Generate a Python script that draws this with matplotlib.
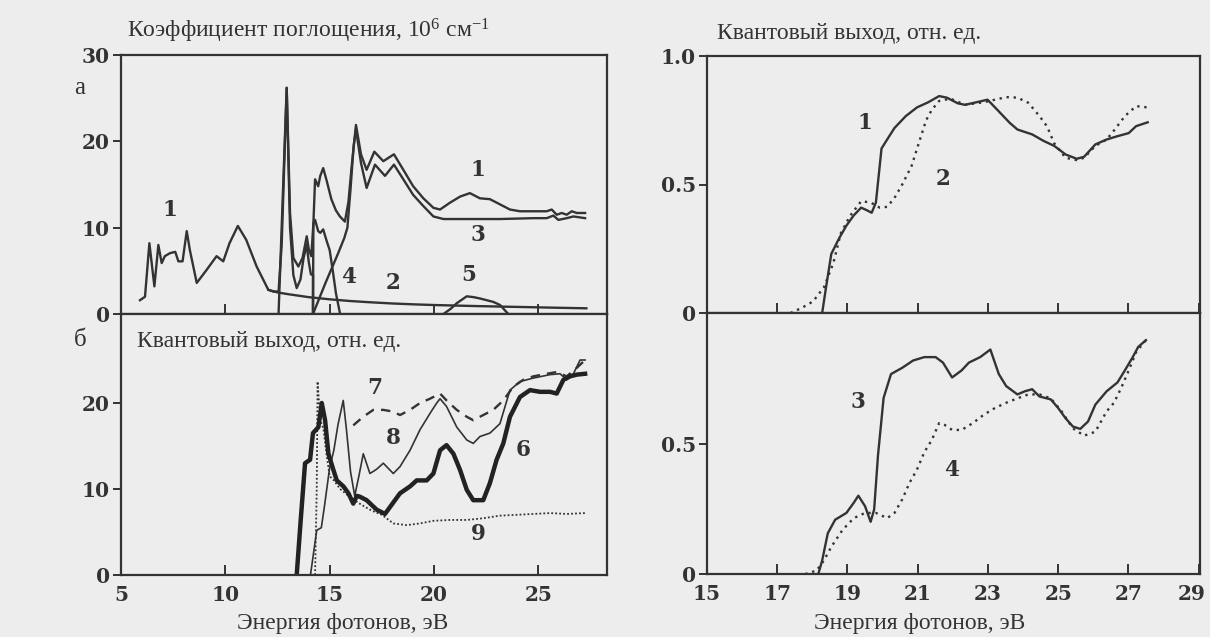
import matplotlib
matplotlib.use("Agg")
import matplotlib.pyplot as plt
from matplotlib.transforms import offset_copy

plt.rcParams['font.family'] = ['Liberation Serif', 'DejaVu Serif']
plt.rcParams['mathtext.fontset'] = 'custom'
plt.rcParams['mathtext.rm'] = 'Liberation Serif'
plt.rcParams['mathtext.it'] = 'Liberation Serif:italic'

# ---------------- panel a: absorption coefficient (10^6 cm^-1) ----------------
abs1_E = [5.91, 6.15, 6.36, 6.6, 6.79, 6.95, 7.1, 7.35, 7.6, 7.75, 7.95, 8.15, 8.3, 8.63,
          9.1, 9.58, 9.9, 10.2, 10.6, 11.0, 11.5, 12.06, 12.3, 12.55, 12.7, 12.94, 13.1,
          13.26, 13.5, 13.7, 13.9, 14.0, 14.12, 14.22, 14.3, 14.45, 14.55, 14.69, 14.85,
          15.08, 15.3, 15.49, 15.73, 15.9, 16.05, 16.26, 16.5, 16.77, 17.14, 17.57, 18.08,
          18.53, 19.0, 19.49, 19.97, 20.29, 20.77, 21.25, 21.72, 22.2, 22.68, 23.16, 23.64,
          24.12, 24.76, 25.4, 25.64, 25.88, 26.12, 26.36, 26.6, 26.84, 27.24]
abs1_v = [1.6, 2.0, 8.2, 3.2, 8.0, 5.9, 6.7, 7.05, 7.2, 6.1, 6.1, 9.6, 7.4, 3.6,
          5.1, 6.7, 6.1, 8.2, 10.2, 8.6, 5.5, 2.8, 2.6, 2.6, 8.0, 26.2, 11.7,
          6.5, 5.5, 6.5, 9.0, 7.5, 6.7, 10.5, 15.6, 14.8, 16.0, 16.9, 15.5,
          13.3, 12.0, 11.3, 10.7, 13.0, 17.0, 21.9, 18.5, 16.7, 18.8, 17.7, 18.5,
          16.7, 14.8, 13.4, 12.3, 12.1, 12.9, 13.6, 14.0, 13.4, 13.3, 12.7, 12.1,
          11.9, 11.9, 11.9, 12.1, 11.5, 11.7, 11.5, 11.9, 11.7, 11.7]

abs2_E = [12.06, 12.5, 13.0, 14.0, 15.0, 16.0, 17.0, 18.0, 19.0, 20.0, 22.0, 24.0, 26.0, 27.3]
abs2_v = [2.8, 2.5, 2.3, 1.95, 1.7, 1.5, 1.35, 1.22, 1.12, 1.04, 0.92, 0.82, 0.72, 0.66]

abs3_E = [14.2, 14.5, 14.8, 15.1, 15.4, 15.7, 15.85, 16.0, 16.15, 16.26, 16.5, 16.77, 17.17,
          17.65, 18.08, 18.53, 19.0, 19.49, 19.97, 20.45, 21.57, 23.16, 24.76, 25.4, 25.72,
          25.96, 26.36, 26.68, 27.24]
abs3_v = [0, 1.8, 3.6, 5.3, 7.0, 8.8, 10.0, 14.5, 19.5, 21.4, 17.5, 14.6, 17.3,
          16.0, 17.3, 15.6, 13.8, 12.5, 11.3, 11.0, 11.0, 11.0, 11.1, 11.1, 11.4,
          10.9, 11.1, 11.3, 11.1]

abs4_E = [12.55, 12.94, 13.1, 13.26, 13.42, 13.6, 13.75, 13.9, 14.0, 14.1, 14.2, 14.2,
          14.22, 14.3, 14.45, 14.55, 14.69, 14.85, 15.0, 15.15, 15.3, 15.5]
abs4_v = [0, 26.2, 10.0, 4.5, 3.0, 4.0, 6.5, 8.0, 6.0, 4.6, 4.5, 0,
          10.5, 10.9, 9.6, 9.4, 9.8, 8.5, 7.4, 5.0, 2.4, 0]

abs5_E = [20.45, 20.8, 21.09, 21.57, 21.9, 22.2, 22.84, 23.16, 23.56]
abs5_v = [0, 0.6, 1.25, 2.05, 1.95, 1.8, 1.4, 1.05, 0]

# ---------------- panel b: quantum yield (rel. units) ----------------
qy6_E = [13.42, 13.6, 13.82, 14.06, 14.2, 14.46, 14.62, 14.78, 14.94, 15.18, 15.34, 15.66,
         15.9, 16.13, 16.3, 16.45, 16.77, 17.25, 17.65, 17.89, 18.37, 18.85, 19.17, 19.65,
         19.97, 20.29, 20.6, 20.93, 21.25, 21.57, 21.88, 22.36, 22.68, 23.0, 23.32, 23.64,
         24.12, 24.6, 25.08, 25.56, 25.88, 26.2, 26.52, 26.84, 27.24]
qy6_v = [0, 6.0, 13.0, 13.4, 16.5, 17.2, 20.0, 18.0, 14.1, 12.2, 11.0, 10.3,
         9.5, 8.3, 9.2, 9.1, 8.7, 7.6, 7.1, 7.9, 9.5, 10.3, 11.0, 11.0,
         11.8, 14.5, 15.1, 14.1, 12.2, 9.9, 8.7, 8.7, 10.7, 13.4, 15.3, 18.4,
         20.7, 21.5, 21.3, 21.3, 21.1, 22.7, 23.1, 23.3, 23.4]

qy7_E = [16.13, 16.61, 17.09, 17.57, 18.05, 18.37, 18.85, 19.33, 19.81, 20.29, 20.6, 21.09,
         21.57, 21.88, 22.36, 22.84, 23.32, 23.8, 24.28, 24.76, 25.4, 25.88, 26.36, 26.8, 27.24]
qy7_v = [17.4, 18.4, 19.2, 19.2, 19.0, 18.6, 19.2, 20.0, 20.5, 21.1, 20.3, 19.2,
         18.4, 18.0, 18.6, 19.2, 20.3, 21.9, 22.7, 23.1, 23.4, 23.6, 23.1, 24.0, 25.0]

qy8_E = [14.08, 14.38, 14.6, 14.75, 15.0, 15.2, 15.4, 15.65, 15.8, 16.0, 16.2, 16.4, 16.61,
         16.93, 17.25, 17.57, 18.05, 18.37, 18.85, 19.33, 19.81, 20.13, 20.29, 20.6, 21.09,
         21.57, 21.88, 22.2, 22.68, 23.16, 23.64, 24.12, 24.76, 25.56, 26.04, 26.36, 26.68,
         27.0, 27.24]
qy8_v = [0, 5.2, 5.5, 8.0, 12.5, 14.5, 17.5, 20.3, 17.0, 12.0, 9.2, 11.5, 14.1,
         11.8, 12.3, 13.0, 11.8, 12.6, 14.5, 16.9, 18.8, 20.0, 20.5, 19.6, 17.2,
         15.7, 15.3, 16.1, 16.5, 17.6, 21.5, 22.5, 22.9, 23.3, 23.4, 22.7, 23.4,
         25.0, 25.0]

qy9_E = [14.3, 14.38, 14.42, 14.55, 14.7, 14.85, 15.0, 15.2, 15.5, 16.0, 16.5, 17.0, 17.5,
         18.05, 18.69, 19.33, 19.97, 20.77, 21.57, 22.36, 23.16, 23.96, 24.76, 25.56, 26.36,
         27.24]
qy9_v = [0, 10.0, 22.5, 18.0, 17.0, 14.0, 11.5, 11.0, 10.0, 9.0, 8.2, 7.5, 7.0,
         6.0, 5.8, 6.0, 6.3, 6.4, 6.4, 6.6, 6.9, 7.0, 7.1, 7.2, 7.1, 7.2]

# ---------------- right panels: quantum yield ----------------
r1_E = [18.28, 18.39, 18.54, 18.76, 18.97, 19.18, 19.39, 19.55, 19.69, 19.81, 19.97, 20.13,
        20.34, 20.66, 20.98, 21.3, 21.61, 21.83, 22.14, 22.35, 22.67, 22.99, 23.3, 23.62,
        23.84, 24.26, 24.58, 24.89, 25.21, 25.53, 25.74, 26.06, 26.38, 26.69, 27.01, 27.22,
        27.55]
r1_v = [0, 0.10, 0.23, 0.29, 0.34, 0.38, 0.41, 0.40, 0.39, 0.43, 0.64, 0.675,
        0.72, 0.766, 0.80, 0.82, 0.844, 0.838, 0.816, 0.81, 0.82, 0.83, 0.786, 0.74,
        0.714, 0.695, 0.67, 0.65, 0.617, 0.60, 0.608, 0.656, 0.675, 0.688, 0.70, 0.727,
        0.742]

r2_E = [17.38, 17.7, 18.02, 18.33, 18.6, 18.81, 19.07, 19.39, 19.66, 19.92, 20.13, 20.34,
        20.56, 20.82, 21.03, 21.24, 21.4, 21.61, 21.93, 22.35, 22.88, 23.2, 23.52, 23.84,
        24.15, 24.47, 24.68, 24.89, 25.21, 25.53, 25.74, 26.06, 26.38, 26.59, 26.9, 27.22,
        27.55]
r2_v = [0, 0.02, 0.045, 0.10, 0.195, 0.31, 0.377, 0.435, 0.43, 0.41, 0.413, 0.448,
        0.50, 0.57, 0.66, 0.75, 0.79, 0.825, 0.834, 0.81, 0.82, 0.83, 0.84, 0.838,
        0.818, 0.766, 0.727, 0.66, 0.604, 0.595, 0.604, 0.65, 0.675, 0.71, 0.766, 0.805,
        0.80]

r3_E = [18.17, 18.28, 18.44, 18.65, 18.97, 19.18, 19.31, 19.5, 19.66, 19.76, 19.87, 20.03,
        20.24, 20.56, 20.87, 21.19, 21.51, 21.72, 21.98, 22.25, 22.46, 22.78, 23.07, 23.31,
        23.52, 23.84, 24.05, 24.26, 24.47, 24.79, 25.0, 25.21, 25.42, 25.63, 25.85, 26.06,
        26.38, 26.69, 26.9, 27.12, 27.28, 27.5]
r3_v = [0, 0.052, 0.156, 0.208, 0.234, 0.273, 0.30, 0.26, 0.20, 0.247, 0.455, 0.675,
        0.766, 0.79, 0.818, 0.831, 0.831, 0.81, 0.753, 0.78, 0.81, 0.831, 0.86, 0.766,
        0.72, 0.688, 0.70, 0.708, 0.68, 0.669, 0.636, 0.597, 0.565, 0.556, 0.584, 0.649,
        0.70, 0.734, 0.78, 0.83, 0.87, 0.896]

r4_E = [17.8, 18.12, 18.33, 18.54, 18.86, 19.18, 19.5, 19.81, 20.13, 20.34, 20.56, 20.77,
        20.98, 21.19, 21.4, 21.61, 21.77, 21.98, 22.25, 22.57, 22.88, 23.2, 23.52, 23.84,
        24.15, 24.47, 24.79, 25.1, 25.42, 25.74, 26.06, 26.38, 26.59, 26.8, 27.01, 27.22,
        27.5]
r4_v = [0, 0.013, 0.052, 0.104, 0.169, 0.214, 0.234, 0.234, 0.214, 0.234, 0.286, 0.35,
        0.40, 0.467, 0.513, 0.578, 0.571, 0.552, 0.552, 0.578, 0.61, 0.636, 0.656, 0.673,
        0.688, 0.688, 0.673, 0.623, 0.558, 0.53, 0.545, 0.623, 0.656, 0.714, 0.78, 0.85,
        0.896]

left_xticks = [5, 10, 15, 20, 25]
right_xticks = [15, 17, 19, 21, 23, 25, 27, 29]
a_yticks = [0, 10, 20, 30]
b_yticks = [0, 10, 20]
c_yticks = [0, 0.5, 1.0]
c_yticklabels = ['0', '0.5', '1.0']
d_yticks = [0, 0.5]
d_yticklabels = ['0', '0.5']

# ---------------- figure ----------------
W, H = 1210, 637
BG = '#ededed'
INK = '#333333'
fig = plt.figure(figsize=(W / 100, H / 100), dpi=100, facecolor=BG)


def box(x0, x1, ytop, ybot):
    return [x0 / W, (H - ybot) / H, (x1 - x0) / W, (ybot - ytop) / H]


ax_a = fig.add_axes(box(121, 607, 55, 314))
ax_b = fig.add_axes(box(121, 607, 314, 575))
ax_c = fig.add_axes(box(707, 1200, 56, 313))
ax_d = fig.add_axes(box(707, 1200, 313, 574))

tickfont = dict(family='DejaVu Serif', weight='bold', size=14.5)
for ax in (ax_a, ax_b, ax_c, ax_d):
    ax.set_facecolor(BG)
    for s in ax.spines.values():
        s.set_color(INK)
        s.set_linewidth(1.6)
    ax.tick_params(axis='y', direction='out', length=6, width=1.4, color=INK, pad=2)
    ax.tick_params(axis='x', direction='in', length=7, width=1.4, color=INK, pad=7)

ax_a.set_xlim(5, 28.29)
ax_b.set_xlim(5, 28.29)
ax_c.set_xlim(15, 29.04)
ax_d.set_xlim(15, 29.04)
ax_a.set_ylim(0, 30)
ax_b.set_ylim(0, 30.35)
ax_c.set_ylim(0, 1.0)
ax_d.set_ylim(0, 1.0)

for ax in (ax_a, ax_b):
    ax.set_xticks(left_xticks)
for ax in (ax_c, ax_d):
    ax.set_xticks(right_xticks)
ax_a.set_xticklabels([])
ax_c.set_xticklabels([])
ax_b.set_xticklabels([str(t) for t in left_xticks], fontdict=tickfont, color=INK)
# last right-hand label is drawn separately, nudged left so it stays inside the image
d_labels = [str(t) for t in right_xticks]
ax_d.set_xticklabels(d_labels[:-1] + [''], fontdict=tickfont, color=INK)
ax_d.text(right_xticks[-1], 0, d_labels[-1], ha='center', va='top', color=INK,
          transform=offset_copy(ax_d.get_xaxis_transform(), fig=fig, x=-5, y=-7,
                                units='points'), **tickfont)
ax_a.set_yticks(a_yticks)
ax_a.set_yticklabels([str(t) for t in a_yticks], fontdict=tickfont, color=INK)
ax_b.set_yticks(b_yticks)
ax_b.set_yticklabels([str(t) for t in b_yticks], fontdict=tickfont, color=INK)
ax_c.set_yticks(c_yticks)
ax_c.set_yticklabels(c_yticklabels, fontdict=tickfont, color=INK)
ax_d.set_yticks(d_yticks)
ax_d.set_yticklabels(d_yticklabels, fontdict=tickfont, color=INK)

lw = 1.7
# panel a
ax_a.plot(abs1_E, abs1_v, color=INK, lw=lw)
ax_a.plot(abs2_E, abs2_v, color=INK, lw=lw)
ax_a.plot(abs3_E, abs3_v, color=INK, lw=lw)
ax_a.plot(abs4_E, abs4_v, color=INK, lw=lw)
ax_a.plot(abs5_E, abs5_v, color=INK, lw=lw)
# panel b
ax_b.plot(qy9_E, qy9_v, color=INK, lw=1.3, ls=(0, (1, 1.2)))
ax_b.plot(qy8_E, qy8_v, color=INK, lw=1.2)
ax_b.plot(qy7_E, qy7_v, color=INK, lw=1.7, ls=(0, (4, 3)))
ax_b.plot(qy6_E, qy6_v, color='#222222', lw=3.2)
# right panels
ax_c.plot(r1_E, r1_v, color=INK, lw=lw)
ax_c.plot(r2_E, r2_v, color=INK, lw=1.7, ls=(0, (1, 2)))
ax_d.plot(r3_E, r3_v, color=INK, lw=lw)
ax_d.plot(r4_E, r4_v, color=INK, lw=1.7, ls=(0, (1, 2)))

labfont = dict(family='DejaVu Serif', weight='bold', size=15.5, color=INK,
               ha='center', va='center')
for ax, txt, x, y in [
    (ax_a, '1', 7.35, 12.1), (ax_a, '1', 22.1, 16.7), (ax_a, '3', 22.1, 9.2),
    (ax_a, '4', 15.9, 4.3), (ax_a, '2', 18.05, 3.6), (ax_a, '5', 21.65, 4.5),
    (ax_b, '7', 17.17, 21.7), (ax_b, '8', 18.05, 15.9), (ax_b, '6', 24.28, 14.5),
    (ax_b, '9', 22.12, 4.8),
    (ax_c, '1', 19.5, 0.74), (ax_c, '2', 21.72, 0.52),
    (ax_d, '3', 19.29, 0.66), (ax_d, '4', 21.98, 0.40),
]:
    ax.text(x, y, txt, **labfont)

titlefont = dict(size=17, color=INK, va='center')
fig.text(127 / W, 1 - 31 / H, 'Коэффициент поглощения, 10$^{6}$ см$^{-1}$', ha='left', **titlefont)
fig.text(137 / W, 1 - 342 / H, 'Квантовый выход, отн. ед.', ha='left', **titlefont)
fig.text(717 / W, 1 - 33 / H, 'Квантовый выход, отн. ед.', ha='left', **titlefont)
fig.text(343 / W, 1 - 623 / H, 'Энергия фотонов, эВ', ha='center', **titlefont)
fig.text(920 / W, 1 - 623 / H, 'Энергия фотонов, эВ', ha='center', **titlefont)
fig.text(80 / W, 1 - 88 / H, 'а', ha='center', size=18, color=INK, va='center')
fig.text(80 / W, 1 - 340 / H, 'б', ha='center', size=18, color=INK, va='center')

fig.savefig('out.png', dpi=100, facecolor=BG)
